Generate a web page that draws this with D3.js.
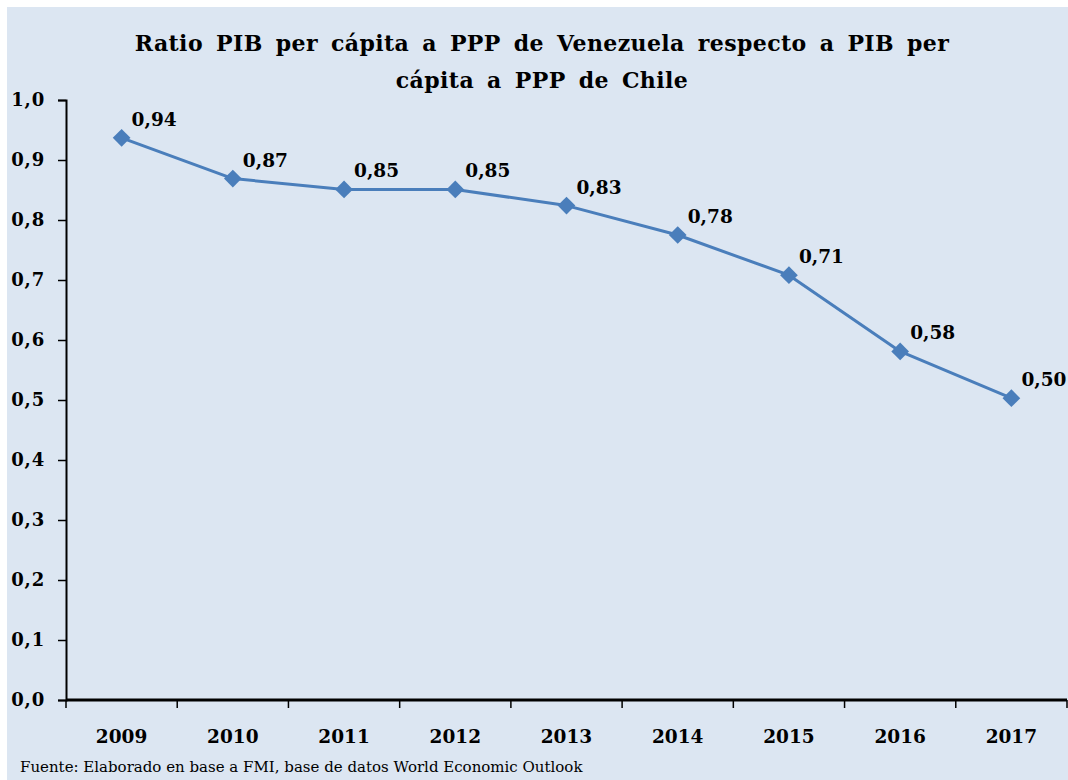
<!DOCTYPE html>
<html>
<head>
<meta charset="utf-8">
<script src="https://cdn.jsdelivr.net/npm/d3@7"></script>
<style>
  body { margin: 0; background: #ffffff; }
  svg { display: block; }
</style>
</head>
<body>
<div id="chart"></div>
<script>
var width = 1068;
var height = 780;

// data
var years = ['2009', '2010', '2011', '2012', '2013', '2014', '2015', '2016', '2017'];
var ratio = [0.937, 0.869, 0.851, 0.851, 0.824, 0.775, 0.708, 0.581, 0.503];
var ratioLabels = ['0,94', '0,87', '0,85', '0,85', '0,83', '0,78', '0,71', '0,58', '0,50'];
var yTicks = [0, 0.1, 0.2, 0.3, 0.4, 0.5, 0.6, 0.7, 0.8, 0.9, 1.0];
var titleLines = ['Ratio PIB per cápita a PPP de Venezuela respecto a PIB per', 'cápita a PPP de Chile'];
var source = 'Fuente: Elaborado en base a FMI, base de datos World Economic Outlook';

var serif = '"DejaVu Serif", "Liberation Serif", serif';
var lineColor = '#4a7ebb';

var svg = d3.select('#chart').append('svg')
    .attr('width', width)
    .attr('height', height);

// background panel
svg.append('rect')
    .attr('x', 7)
    .attr('y', 7)
    .attr('width', width - 7)
    .attr('height', height - 7)
    .attr('fill', '#dce6f2');

var x = d3.scaleBand()
    .domain(years)
    .range([66, 1067])
    .padding(0);

var y = d3.scaleLinear()
    .domain([0, 1])
    .range([700, 100]);

// title
svg.append('g').selectAll('text')
    .data(titleLines)
    .enter()
    .append('text')
        .attr('x', 542)
        .attr('y', function (d, i) { return 51 + i * 37; })
        .attr('text-anchor', 'middle')
        .attr('font-family', serif)
        .attr('font-weight', 'bold')
        .attr('font-size', 22)
        .attr('word-spacing', 5)
        .attr('letter-spacing', 0.4)
        .attr('fill', '#000')
        .text(function (d) { return d; });

// y axis
var yAxis = d3.axisLeft(y)
    .tickValues(yTicks)
    .tickSize(8)
    .tickFormat(function (d) { return d3.format('.1f')(d).replace('.', ','); });

var gy = svg.append('g')
    .attr('transform', 'translate(66,0)')
    .call(yAxis);
gy.select('.domain').attr('stroke', '#000').attr('stroke-width', 2);
gy.selectAll('.tick line').attr('stroke', '#000').attr('stroke-width', 1.5);
gy.selectAll('.tick text')
    .attr('x', -21)
    .attr('font-family', serif)
    .attr('font-weight', 'bold')
    .attr('font-size', 18)
    .attr('letter-spacing', 0.8)
    .attr('fill', '#000');

// x axis, ticks between categories
var gx = svg.append('g')
    .attr('transform', 'translate(0,700)');
gx.append('line')
    .attr('x1', 66)
    .attr('x2', 1067)
    .attr('stroke', '#000')
    .attr('stroke-width', 3);
gx.selectAll('line.tk')
    .data(years)
    .enter()
    .append('line')
        .attr('class', 'tk')
        .attr('x1', function (d) { return x(d) + x.bandwidth(); })
        .attr('x2', function (d) { return x(d) + x.bandwidth(); })
        .attr('y1', 0)
        .attr('y2', 8)
        .attr('stroke', '#000')
        .attr('stroke-width', 1.5);
gx.append('line')
    .attr('x1', 66).attr('x2', 66)
    .attr('y1', 0).attr('y2', 8)
    .attr('stroke', '#000')
    .attr('stroke-width', 1.5);
gx.selectAll('text')
    .data(years)
    .enter()
    .append('text')
        .attr('x', function (d) { return x(d) + x.bandwidth() / 2; })
        .attr('y', 43)
        .attr('text-anchor', 'middle')
        .attr('font-family', serif)
        .attr('font-weight', 'bold')
        .attr('font-size', 18.5)
        .attr('fill', '#000')
        .text(function (d) { return d; });

// line
var line = d3.line()
    .x(function (d, i) { return x(years[i]) + x.bandwidth() / 2; })
    .y(function (d) { return y(d); });

svg.append('path')
    .datum(ratio)
    .attr('d', line)
    .attr('fill', 'none')
    .attr('stroke', lineColor)
    .attr('stroke-width', 3)
    .attr('stroke-linejoin', 'round');

// diamond markers
svg.append('g').selectAll('path')
    .data(ratio)
    .enter()
    .append('path')
        .attr('d', d3.symbol().type(d3.symbolDiamond2).size(200))
        .attr('transform', function (d, i) {
            return 'translate(' + (x(years[i]) + x.bandwidth() / 2) + ',' + y(d) + ')';
        })
        .attr('fill', lineColor);

// value labels
svg.append('g').selectAll('text')
    .data(ratio)
    .enter()
    .append('text')
        .attr('x', function (d, i) { return x(years[i]) + x.bandwidth() / 2 + 10; })
        .attr('y', function (d) { return y(d) - 12; })
        .attr('font-family', serif)
        .attr('font-weight', 'bold')
        .attr('font-size', 18.5)
        .attr('fill', '#000')
        .text(function (d, i) { return ratioLabels[i]; });

// source
svg.append('text')
    .attr('x', 20)
    .attr('y', 772)
    .attr('font-family', serif)
    .attr('font-size', 15)
    .attr('fill', '#000')
    .text(source);
</script>
</body>
</html>
